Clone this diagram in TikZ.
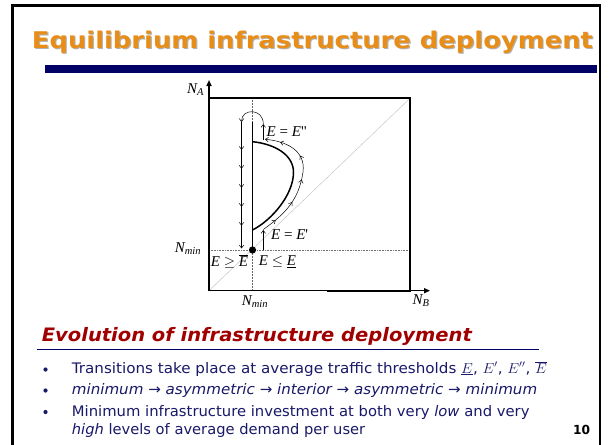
\documentclass[tikz,border=0pt]{standalone}
\usepackage{fontspec}
\usepackage{graphicx}
\setmainfont{DejaVu Sans}
\newfontfamily\tms{Liberation Serif}
\usetikzlibrary{arrows.meta,decorations.markings}
\definecolor{ttl}{RGB}{232,142,24}
\definecolor{navy}{RGB}{0,0,102}
\definecolor{hdr}{RGB}{160,0,0}
\definecolor{btxt}{RGB}{25,25,105}
\newcommand\fitw[2]{\resizebox{#1pt}{\height}{#2}}
\begin{document}
\begin{tikzpicture}[x=1pt,y=-1pt,
  lbl/.style={inner sep=0pt,font=\tms\fontsize{15}{15}\selectfont},
  txt/.style={inner sep=0pt,anchor=base west},
  thk/.style={line width=1.9pt},
  thinarr/.style={line width=0.5pt},
  barb/.style={-{Straight Barb[length=3pt,width=4.5pt]}},
  mk/.style={postaction={decorate},decoration={markings,
     mark=between positions 0.12 and 0.9 step 0.19 with {\arrow{Straight Barb[length=3pt,width=4.5pt]}}}}
  ]
\useasboundingbox (0,0) rectangle (609,444);
\fill[white] (0,0) rectangle (609,444);
% frame
\draw[line width=2.6pt] (12.5,5.5) rectangle (600,470);
% title
\node[txt,text=black!30] (tsh) at (32.8,49.4) {\fitw{561}{\fontsize{23}{23}\selectfont\bfseries Equilibrium infrastructure deployment}};
\node[txt,text=ttl] (title) at (31.7,48.3) {\fitw{561}{\fontsize{23}{23}\selectfont\bfseries Equilibrium infrastructure deployment}};
\fill[navy] (45,65) rectangle (596.7,73.3);

% diagram
\draw[line width=0.4pt,black!25] (209,290.7) -- (410,98.3);
\draw[line width=0.5pt,black!60,densely dotted] (252.5,98.3) -- (252.5,290.7);
\draw[line width=0.6pt,black!55,densely dotted] (209,250) -- (410,250);
\draw[thk] (209,98.3) -- (410,98.3) -- (410,290.7) -- (327,290.7);
\draw[line width=1.5pt,-{Triangle[length=6pt,width=5pt]}] (209,291.4) -- (209,80);
\draw[line width=1.2pt,-{Triangle[length=6pt,width=5pt]}] (208.3,290.7) -- (430,290.7);
% thick equilibrium set
\draw[thk] (252.5,121.7) -- (252.5,250);
\draw[line width=1.5pt] (252.5,141.7) .. controls (275,144) and (294,155) .. (293.5,173)
   .. controls (293,195) and (272,220) .. (252.5,230);
\fill (252.5,250) circle (3.6pt);
% transition paths
\draw[thinarr,barb] (263.3,250) -- (263.3,230);
\draw[thinarr,barb,mk] (263.3,229.5) .. controls (285,214) and (299,200) .. (303,172)
   .. controls (306,150) and (285,141) .. (265,139.3);
\draw[thinarr,barb] (263.3,140) -- (263.3,124);
\draw[thinarr,barb] (263.3,124) .. controls (263.3,108) and (241.5,108) .. (241.5,122);
\draw[thinarr,barb,postaction={decorate},decoration={markings,
   mark=at position 0.22 with {\arrow{Straight Barb[length=3pt,width=4.5pt]}},
   mark=at position 0.37 with {\arrow{Straight Barb[length=3pt,width=4.5pt]}},
   mark=at position 0.52 with {\arrow{Straight Barb[length=3pt,width=4.5pt]}},
   mark=at position 0.67 with {\arrow{Straight Barb[length=3pt,width=4.5pt]}},
   mark=at position 0.82 with {\arrow{Straight Barb[length=3pt,width=4.5pt]}}}]
   (241.5,122) -- (241.5,248.5);
% labels
\node[lbl,anchor=west] (lee2) at (266.5,131.5) {\itshape E\/ \upshape= \itshape E\/\upshape"};
\node[lbl,anchor=west] (lee1) at (271,235) {\itshape E\/ \upshape= \itshape E\/\upshape'};
\node[lbl] (lge) at (229.5,261.5) {\itshape E\/ \upshape$\geq$ $\overline{\hbox{\itshape E}}$};
\node[lbl] (lle) at (277.5,261.5) {\itshape E\/ \upshape$\leq$ $\underline{\hbox{\itshape E}}$};
\node[lbl] (nminl) at (188,248.5) {\itshape N\textsubscript{min}};
\node[lbl] (na) at (195.5,90) {\itshape N\textsubscript{A}};
\node[lbl] (nminb) at (255,302) {\itshape N\textsubscript{min}};
\node[lbl] (nb) at (421,301) {\itshape N\textsubscript{B}};

% lower section
\node[txt,text=hdr] (head) at (41.7,341.7) {\fitw{430}{\fontsize{18.5}{18.5}\selectfont\bfseries\itshape Evolution of infrastructure deployment}};
\draw[navy,line width=1.5pt] (36.7,349.3) -- (539.3,349.3);
\fill[btxt] (45.5,369.5) circle (2.1pt) (45.5,390.5) circle (2.1pt) (45.5,412) circle (2.1pt);
\node[txt,text=btxt] (b1) at (71.7,373) {\fitw{475}{\fontsize{14.5}{14.5}\selectfont Transitions take place at average traffic thresholds $\underline{E}$, $E'$, $E''$, $\overline{E}$}};
\node[txt,text=btxt] (b2) at (71.7,394) {\fitw{465.3}{\fontsize{14.5}{14.5}\selectfont\itshape minimum → asymmetric → interior → asymmetric → minimum}};
\node[txt,text=btxt] (b3) at (71.7,416) {\fitw{457.6}{\fontsize{14.5}{14.5}\selectfont Minimum infrastructure investment at both very \textit{low} and very}};
\node[txt,text=btxt] (b4) at (71.7,434) {\fitw{293.3}{\fontsize{14.5}{14.5}\selectfont\textit{high} levels of average demand per user}};
\node[txt] (pg) at (573,434) {\fitw{17}{\fontsize{12.5}{12.5}\selectfont\bfseries 10}};
\end{tikzpicture}
\end{document}
